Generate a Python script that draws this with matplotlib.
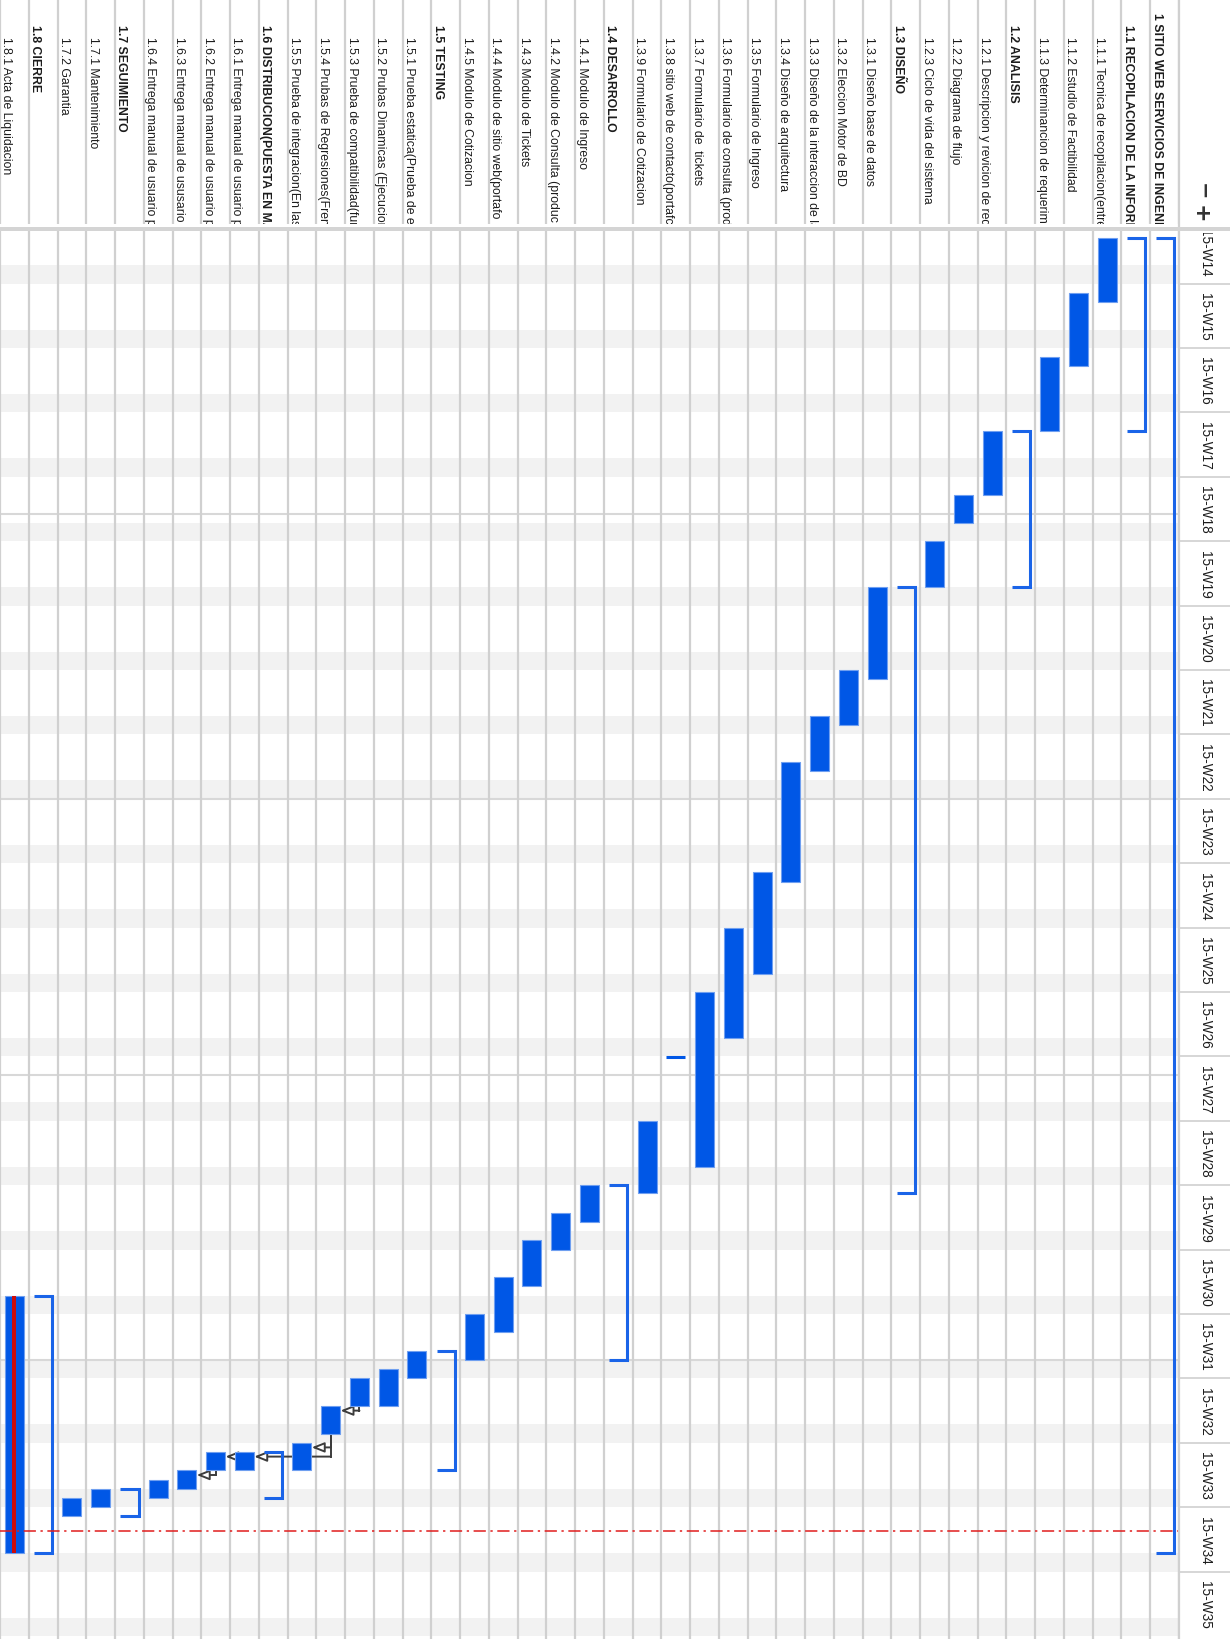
import matplotlib
matplotlib.use('Agg')
import matplotlib.pyplot as plt
from matplotlib.patches import Rectangle
from matplotlib.lines import Line2D

plt.rcParams['font.family'] = ['Liberation Sans', 'DejaVu Sans']

# --- Task data: days counted from Monday 2015-03-30 (start of 15-W14) ---
names = [
    "1 SITIO WEB SERVICIOS DE INGENII",
    "1.1 RECOPILACION DE LA INFORM",
    "1.1.1 Tecnica de recopilacion(entre",
    "1.1.2 Estudio de Factibilidad",
    "1.1.3 Determinancion de requerim",
    "1.2 ANALISIS",
    "1.2.1 Descripcion y revicion de req",
    "1.2.2 Diagrama de flujo",
    "1.2.3 Ciclo de vida del sistema",
    "1.3 DISEÑO",
    "1.3.1 Diseño base de datos",
    "1.3.2 Eleccion Motor de BD",
    "1.3.3 Diseño de la interaccion de la",
    "1.3.4 Diseño de arquitectura",
    "1.3.5 Formulario de Ingreso",
    "1.3.6 Formulario de consulta (prod",
    "1.3.7 Formulario de  tickets",
    "1.3.8 sitio web de contacto(portafc",
    "1.3.9 Formulario de Cotizacion",
    "1.4 DESARROLLO",
    "1.4.1 Modulo de Ingreso",
    "1.4.2 Modulo de Consulta (produc",
    "1.4.3 Modulo de Tickets",
    "1.4.4 Modulo de sitio web(portafo",
    "1.4.5 Modulo de Cotizacion",
    "1.5 TESTING",
    "1.5.1 Prueba estatica(Prueba de es",
    "1.5.2 Prubas Dinamicas (Ejecucion",
    "1.5.3 Prueba de compatibilidad(fur",
    "1.5.4 Prubas de Regresiones(Frent",
    "1.5.5 Prueba de integracion(En las",
    "1.6 DISTRIBUCION(PUESTA EN MA",
    "1.6.1 Entrega manual de usuario p",
    "1.6.2 Entrega manual de usuario p",
    "1.6.3 Entrega manual de ususario p",
    "1.6.4 Entrega manual de usuario p",
    "1.7 SEGUIMIENTO",
    "1.7.1 Mantenimiento",
    "1.7.2 Garantia",
    "1.8 CIERRE",
    "1.8.1 Acta de Liquidacion",
]
starts = [2, 2, 2, 8, 15, 23, 23, 30, 35, 40, 40, 49, 54, 59, 71, 77, 84, 91.1, 98,
          105, 105, 108, 111, 115, 119, 123, 123, 125, 126, 129, 133, 134, 134, 134,
          136, 137, 138, 138, 139, 117, 117]
ends = [145, 23, 9, 16, 23, 40, 30, 33, 40, 105.8, 50, 55, 60, 72, 82, 89, 103, 91.1, 105.8,
        124, 109, 112, 116, 121, 124, 136, 126, 129, 129, 132, 136, 139, 136, 136,
        138, 139, 141, 140, 141, 145, 145]
critical = ["1.8.1"]
links = [("1.5.3", "1.5.4"), ("1.5.4", "1.5.5"), ("1.5.4", "1.6.1"),
         ("1.6.1", "1.6.2"), ("1.6.2", "1.6.3")]
weeks = ["15-W14", "15-W15", "15-W16", "15-W17", "15-W18", "15-W19", "15-W20",
         "15-W21", "15-W22", "15-W23", "15-W24", "15-W25", "15-W26", "15-W27",
         "15-W28", "15-W29", "15-W30", "15-W31", "15-W32", "15-W33", "15-W34", "15-W35"]
month_starts = [32, 63, 93, 124]   # May 1, Jun 1, Jul 1, Aug 1
today = 142.6

# --- Style ---
W, H = 1230, 1640
BLUE = '#0057e6'
BLUE_EDGE = '#6f9ff0'
BRACKET = '#1a64e8'
RED = '#cc0b0b'
GRID = '#d0d0d0'
WEEKEND = '#f2f2f2'
LINK = '#3c3c3c'
TXT = '#1c1c1c'
PX_T0, PX_DAY = 220.2, 9.2


def t_at(y):
    return (y - PX_T0) / PX_DAY


fig = plt.figure(figsize=(W / 100, H / 100), dpi=100)
fig.patch.set_facecolor('white')


def px_axes(x0, y0, x1, y1):
    a = fig.add_axes([x0 / W, 1 - y1 / H, (x1 - x0) / W, (y1 - y0) / H])
    a.set_axis_off()
    return a


n = len(names)
codes = [s.split()[0] for s in names]
levels = [c.count('.') for c in codes]

# --- Chart body (rotated Gantt: rows run right->left, time runs downward) ---
ax = px_axes(0, 228, 1179, 1640)
ax.set_xlim(n, 0)
ax.set_ylim(t_at(1640), t_at(228))

for k in range(len(weeks)):
    ax.axhspan(7 * k + 5, 7 * k + 7, color=WEEKEND, lw=0, zorder=0)
for m in month_starts:
    ax.axhline(m, color='#d8d8d8', lw=1.5, zorder=1)
for p in range(n + 1):
    ax.axvline(p, color=GRID, lw=1.6, zorder=1)

task_rows = [i for i in range(n) if levels[i] >= 2 and ends[i] > starts[i]]
ax.bar([i + 0.5 for i in task_rows], [ends[i] - starts[i] for i in task_rows],
       bottom=[starts[i] for i in task_rows], width=0.66, color=BLUE,
       edgecolor=BLUE_EDGE, lw=0.8, zorder=3)

# zero-length task drawn as a thin dash
for i in range(n):
    if levels[i] >= 2 and ends[i] == starts[i]:
        ax.hlines(starts[i], i + 0.17, i + 0.83, color=BLUE, lw=2.2, zorder=3)

# critical stripe
for c in critical:
    i = codes.index(c)
    ax.bar(i + 0.5, ends[i] - starts[i], bottom=starts[i], width=0.14,
           color=RED, lw=0, zorder=4)

# summary brackets
for i in range(n):
    if levels[i] < 2:
        ax.plot([i + 0.81, i + 0.18, i + 0.18, i + 0.81],
                [starts[i], starts[i], ends[i], ends[i]],
                color=BRACKET, lw=2.2, solid_joinstyle='miter',
                solid_capstyle='butt', zorder=3)

# dependency links
for a, b in links:
    i, j = codes.index(a), codes.index(b)
    y = starts[j] + 0.5
    ax.plot([i + 0.5, i + 0.5], [ends[i], y], color=LINK, lw=1.4, zorder=2.5)
    ax.annotate('', xy=(j + 0.16, y), xytext=(i + 0.5, y), zorder=2.5,
                arrowprops=dict(arrowstyle='-|>,head_length=0.75,head_width=0.3',
                                fc='white', ec=LINK, lw=1.4, shrinkA=0, shrinkB=0))

# today line
ax.axhline(today, color='#e01d1d', lw=1.1, ls=(0, (8, 3, 1.5, 3)), zorder=5)

# --- Header with task names ---
hd = px_axes(0, 0, 1179, 225)
hd.set_xlim(n, 0)
hd.set_ylim(225, 0)
for p in range(n + 1):
    hd.axvline(p, color=GRID, lw=1.6, zorder=1)
for i, s in enumerate(names):
    hd.text(i + 0.88, 13 + 12 * levels[i], s, rotation=-90, rotation_mode='anchor',
            ha='left', va='baseline', fontsize=8.8, color=TXT,
            fontweight='bold' if levels[i] < 2 else 'normal', clip_on=True)

# --- Week labels on the right ---
wk = px_axes(1179, 234, 1230, 1640)
wk.set_xlim(0, 1)
wk.set_ylim(t_at(1640), t_at(234))
for k, lab in enumerate(weeks):
    wk.axhline(7 * k, color=GRID, lw=1.2)
    wk.text(0.5, 7 * k + 3.5, lab, rotation=-90, ha='center', va='center',
            fontsize=9.8, color=TXT, clip_on=True)

# header separator and right divider
fig.add_artist(Rectangle((0, 1 - 232 / H), 1, 4.5 / H, transform=fig.transFigure,
                         facecolor='#d4d4d4', edgecolor='none', zorder=10))
fig.add_artist(Line2D([1179 / W, 1179 / W], [0, 1], transform=fig.transFigure,
                      color=GRID, lw=1.6, zorder=9))

# zoom controls
fig.text(1202 / W, 1 - 192 / H, '−', rotation=-90, ha='center', va='center',
         fontsize=15, fontweight='bold', color='#333333', family='DejaVu Sans')
fig.text(1200 / W, 1 - 214 / H, '+', rotation=-90, ha='center', va='center',
         fontsize=16, fontweight='bold', color='#333333', family='DejaVu Sans')

fig.savefig('out.png', dpi=100)
